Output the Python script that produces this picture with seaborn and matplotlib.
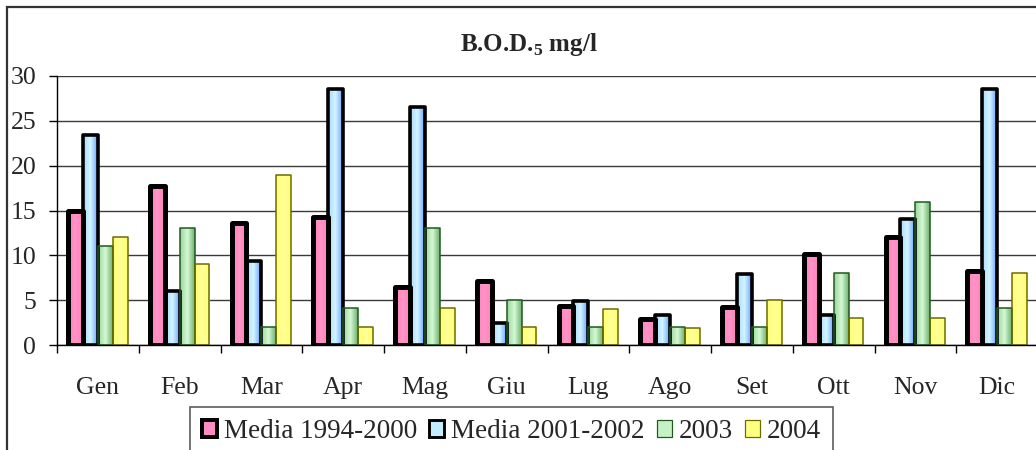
import pandas as pd
import numpy as np
import matplotlib
matplotlib.use("Agg")
import matplotlib.pyplot as plt
import seaborn as sns
from matplotlib.patches import Patch, Rectangle
from matplotlib.colors import LinearSegmentedColormap

# Monthly B.O.D.5 values (mg/l)
mesi = ["Gen", "Feb", "Mar", "Apr", "Mag", "Giu", "Lug", "Ago", "Set", "Ott", "Nov", "Dic"]
serie = ["Media 1994-2000", "Media 2001-2002", "2003", "2004"]
media_94_00 = [15, 17.7, 13.6, 14.3, 6.5, 7.1, 4.4, 2.9, 4.2, 10.2, 12.1, 8.2]
media_01_02 = [23.4, 6, 9.4, 28.5, 26.5, 2.5, 4.9, 3.4, 7.9, 3.4, 14, 28.5]
anno_2003 = [11, 13, 2, 4.1, 13, 5, 2, 2, 2, 8, 16, 4.1]
anno_2004 = [12, 9, 19, 2, 4.1, 2, 4, 1.9, 5, 3, 3, 8]

df = pd.DataFrame({
    "mese": mesi * 4,
    "serie": np.repeat(serie, len(mesi)),
    "val": media_94_00 + media_01_02 + anno_2003 + anno_2004,
})

colori = ["#FF8CC2", "#C4ECFF", "#C4F2C4", "#FFFF80"]
bordi = ["black", "black", "#1E5A1E", "#6B6B00"]
spessori = [3.6, 2.6, 1.1, 1.1]
# horizontal shading inside the bars (left, middle, right)
sfumature = [
    ["#FF80BB", "#FF94C6", "#FF80BB"],
    ["#A9D8FF", "#D2F6FF", "#6E9EFF"],
    ["#9CD49C", "#D4FAD4", "#6FAE6F"],
    ["#FFFF70", "#FFFF99", "#FFFF70"],
]

sns.set_style("white")
plt.rcParams["font.family"] = ["Liberation Serif", "DejaVu Serif"]
plt.rcParams["mathtext.fontset"] = "custom"
plt.rcParams["mathtext.rm"] = "Liberation Serif"
plt.rcParams["mathtext.bf"] = "Liberation Serif:bold"

fig = plt.figure(figsize=(10.36, 4.5), dpi=100)
ax = fig.add_axes([57 / 1036, 1 - 345 / 450, (1038 - 57) / 1036, (345 - 76) / 450])

sns.barplot(data=df, x="mese", y="val", hue="serie", palette=colori,
            saturation=1, width=0.73, ax=ax, legend=False, zorder=3)

ax.set_ylim(0, 30)
ax.set_xlim(-0.5, 11.5)

grad = np.linspace(0, 1, 64).reshape(1, -1)
for cont, ec, lw, sf in zip(ax.containers, bordi, spessori, sfumature):
    cmap = LinearSegmentedColormap.from_list("s", sf)
    for bar in cont:
        bar.set_edgecolor("none")
        x0, y0 = bar.get_xy()
        w, h = bar.get_width(), bar.get_height()
        im = ax.imshow(grad, cmap=cmap, extent=(x0, x0 + w, y0, y0 + h),
                       aspect="auto", zorder=3.1, interpolation="bilinear")
        im.set_clip_path(bar)
        ax.add_patch(Rectangle((x0, y0), w, h, fill=False, edgecolor=ec,
                               linewidth=lw, joinstyle="round", zorder=3.2))

ax.set_xlim(-0.5, 11.5)
ax.set_ylim(0, 30)
ax.set_aspect("auto")
ax.set_yticks(range(0, 31, 5))
ax.yaxis.grid(True, color="#3a3a3a", linewidth=1.0, zorder=0)
ax.set_axisbelow(True)
ax.set_xlabel("")
ax.set_ylabel("")
for s in ["top", "right"]:
    ax.spines[s].set_visible(False)
for s in ["left", "bottom"]:
    ax.spines[s].set_color("black")
    ax.spines[s].set_linewidth(1.0)
    ax.spines[s].set_zorder(4)

ax.set_xticks(np.arange(12))
ax.set_xticklabels(mesi)
ax.set_xticks(np.arange(-0.5, 12, 1), minor=True)
ax.tick_params(axis="x", which="major", length=0, pad=23, labelsize=18.5)
ax.tick_params(axis="x", which="minor", length=6, width=1, color="black", direction="out")
ax.tick_params(axis="y", length=6, width=1, color="black", direction="out", pad=9, labelsize=18.5, left=True)
ax.tick_params(axis="x", bottom=True, which="both")

fig.text(529 / 1036, 1 - 45 / 450, r"B.O.D.$_\mathbf{5}$ mg/l", ha="center", va="center",
         fontsize=18, fontweight="bold")

# outer chart frame (cut by the image on right and bottom)
fig.add_artist(Rectangle((7 / 1036, -0.1), 1.2, 1 - 7 / 450 + 0.1, transform=fig.transFigure,
                         fill=False, edgecolor="#333333", linewidth=1.6))

handles = [Patch(facecolor=c, edgecolor=e, linewidth=l * 0.8) for c, e, l in zip(colori, bordi, spessori)]
leg = fig.legend(handles, serie, loc="upper left", bbox_to_anchor=(190 / 1036, 1 - 407 / 450),
                 ncol=4, fontsize=19.5, frameon=True, fancybox=False, handlelength=0.55,
                 handleheight=0.55, handletextpad=0.25, columnspacing=0.45, borderpad=0.45,
                 borderaxespad=0)
leg.get_frame().set_edgecolor("#333333")
leg.get_frame().set_linewidth(1.2)

fig.savefig("out.png", dpi=100)
